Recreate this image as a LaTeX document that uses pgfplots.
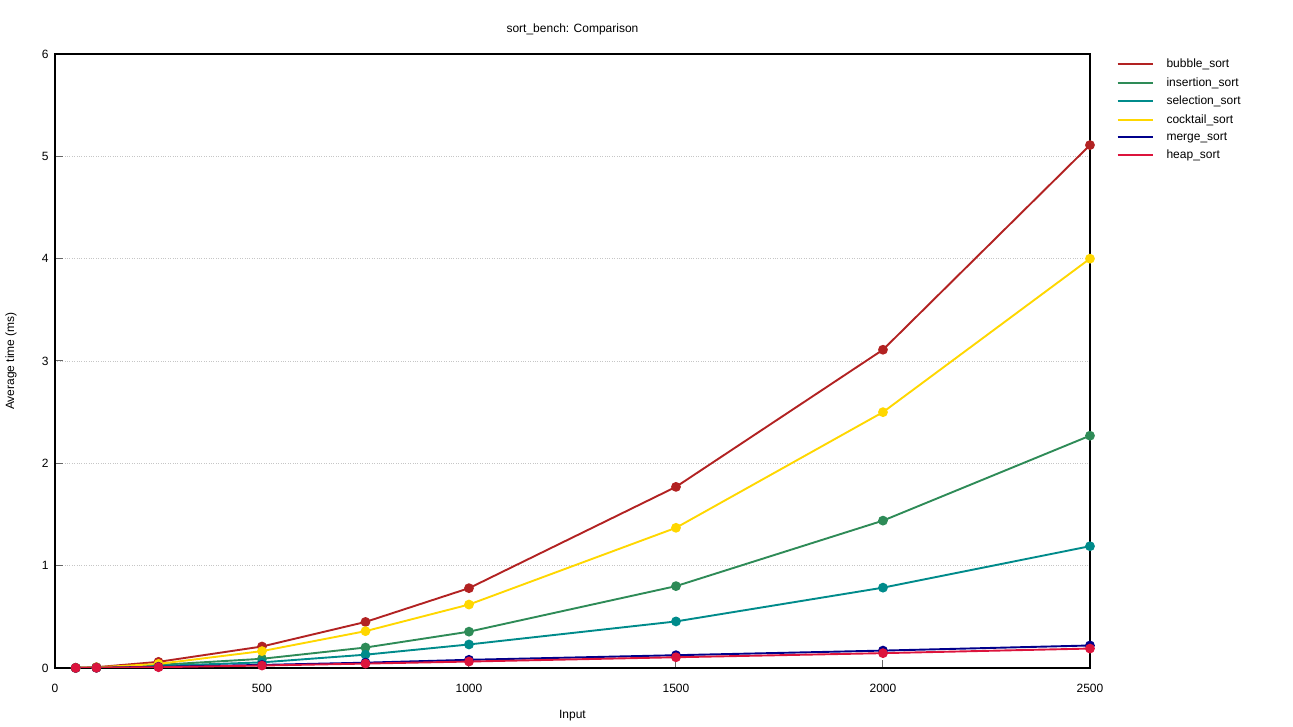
\documentclass[border=0pt]{standalone}
\usepackage{pgfplots}
\pgfplotsset{compat=1.18}
\usepackage{fontspec}
\setmainfont{Liberation Sans}
\definecolor{cbubble}{RGB}{178,34,34}
\definecolor{cinsert}{RGB}{46,139,87}
\definecolor{cselect}{RGB}{0,139,139}
\definecolor{ccocktail}{RGB}{255,215,0}
\definecolor{cmerge}{RGB}{0,0,139}
\definecolor{cheap}{RGB}{220,20,60}
\newcommand{\fs}{\fontsize{12}{14}\selectfont}
\pgfplotsset{
  myline/.style={color=#1, mark=*, mark options={fill=#1, draw=#1, solid}, line width=1.9pt, mark size=3.9pt},
}
\begin{document}
\begin{tikzpicture}
\begin{axis}[
  scale only axis,
  width=1035pt, height=614pt,
  xmin=0, xmax=2500, ymin=0, ymax=6,
  xtick={0,500,1000,1500,2000,2500},
  ytick={0,1,2,3,4,5,6},
  /pgf/number format/assume math mode=true,
  /pgf/number format/1000 sep={},
  tick label style={font=\fs},
  xtick pos=bottom, ytick pos=left,
  tick align=inside,
  major tick length=8pt,
  tick style={gray!80!black, line width=1pt},
  axis line style={line width=1.2pt, black},
  ymajorgrids,
  grid style={dotted, line width=0.8pt, gray!45},
  xticklabel style={yshift=-13pt},
  yticklabel style={xshift=-3pt},
  title={sort\_bench: Comparison},
  title style={font=\fs, at={(axis description cs:0.5,1.031)}, anchor=center},
  xlabel={Input},
  xlabel style={font=\fs, at={(axis description cs:0.5,-0.078)}, anchor=center},
  ylabel={Average time (ms)},
  ylabel style={font=\fs, at={(axis description cs:-0.0425,0.5)}, anchor=center},
  legend style={font=\fs, at={(axis description cs:1.0255,0.995)}, anchor=north west,
    draw=none, fill=none, inner sep=0pt, row sep=4.2pt, cells={anchor=west}},
  legend image code/.code={\draw[#1, mark=none, line width=2pt] (0pt,0pt) -- (35pt,0pt); \path[draw=none, fill=none] (0pt,0pt) -- (47pt,0pt);},
]
\addplot[myline=cbubble] coordinates {(50,0.002)(100,0.008)(250,0.06)(500,0.21)(750,0.45)(1000,0.78)(1500,1.77)(2000,3.11)(2500,5.11)};
\addlegendentry{bubble\_sort}
\addplot[myline=cinsert] coordinates {(50,0.001)(100,0.004)(250,0.03)(500,0.09)(750,0.20)(1000,0.355)(1500,0.80)(2000,1.44)(2500,2.27)};
\addlegendentry{insertion\_sort}
\addplot[myline=cselect] coordinates {(50,0.001)(100,0.003)(250,0.02)(500,0.055)(750,0.13)(1000,0.23)(1500,0.455)(2000,0.785)(2500,1.19)};
\addlegendentry{selection\_sort}
\addplot[myline=ccocktail] coordinates {(50,0.002)(100,0.006)(250,0.04)(500,0.165)(750,0.36)(1000,0.62)(1500,1.37)(2000,2.50)(2500,4.00)};
\addlegendentry{cocktail\_sort}
\addplot[myline=cmerge] coordinates {(50,0.001)(100,0.003)(250,0.012)(500,0.03)(750,0.052)(1000,0.08)(1500,0.125)(2000,0.17)(2500,0.22)};
\addlegendentry{merge\_sort}
\addplot[myline=cheap] coordinates {(50,0.001)(100,0.002)(250,0.008)(500,0.024)(750,0.043)(1000,0.063)(1500,0.105)(2000,0.145)(2500,0.19)};
\addlegendentry{heap\_sort}
\coordinate (O) at (rel axis cs:0,0);
\end{axis}
\pgfresetboundingbox
\path (O) ++(-55pt,-59pt) rectangle ++(1293pt,727pt);
\end{tikzpicture}
\end{document}
